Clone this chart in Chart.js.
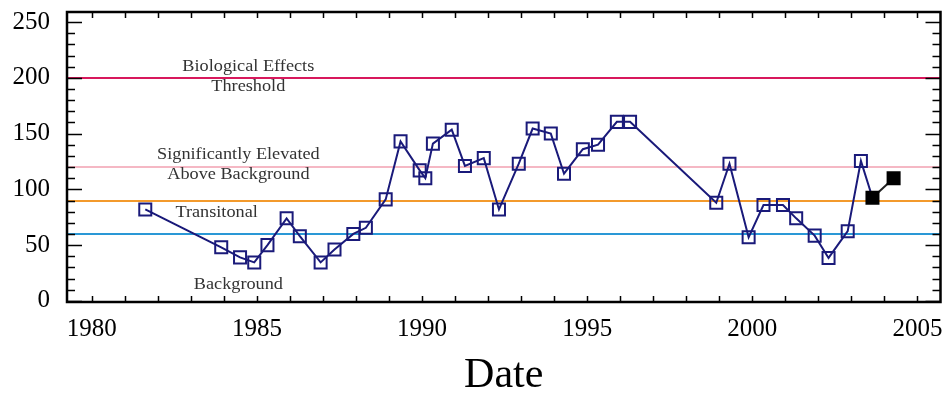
<!DOCTYPE html>
<html><head><meta charset="utf-8">
<script src="https://cdn.jsdelivr.net/npm/chart.js@4.4.1/dist/chart.umd.min.js"></script>
<style>html,body{margin:0;padding:0;background:#fff;}#wrap{width:951px;height:393px;}</style>
</head><body><div id="wrap"><canvas id="c" width="951" height="393"></canvas></div>
<script>
// ---- data ----
const dates = [1981.62,1983.92,1984.49,1984.92,1985.32,1985.90,1986.30,1986.93,1987.35,1987.92,
  1988.30,1988.90,1989.35,1989.93,1990.10,1990.33,1990.90,1991.30,1991.87,1992.33,
  1992.93,1993.35,1993.90,1994.30,1994.87,1995.33,1995.90,1996.30,1998.91,1999.31,
  1999.89,2000.34,2000.93,2001.33,2001.89,2002.31,2002.89,2003.29,2003.64,2004.28];
const values = [82,48,39,34.5,50,74,58,34.5,46,60,
  65.5,91,143,117,110,141,153.5,121,128,82,
  123,154.5,150,114,136,140,160.5,160.5,88,123,
  57,86,86,74,58.5,38.5,62.5,125.5,92.5,110];
const filled = [false,false,false,false,false,false,false,false,false,false,
  false,false,false,false,false,false,false,false,false,false,
  false,false,false,false,false,false,false,false,false,false,
  false,false,false,false,false,false,false,false,true,true];
const xTickLabels = [1980,1985,1990,1995,2000,2005];
const yTickLabels = [0,50,100,150,200,250];
const thresholdValues = [200,120,90,60];
const zoneLabels = [["Biological Effects","Threshold"],["Significantly Elevated","Above Background"],["Transitonal"],["Background"]];
const xAxisTitle = "Date";

// ---- styles ----
const thresholdColors = ['#d8185c','#f5b8c4','#f39a2c','#2a98d6'];
const zoneLabelPos = [[1984.74,210],[1984.44,131],[1983.78,79],[1984.44,14.3]];
const NAVY = '#1a1a7a';
const SERIF = '"Liberation Serif","Times New Roman",serif';

const pts = dates.map((d,i)=>({x:d,y:values[i]}));

const bgPlugin = {
  id:'bg',
  beforeDraw(chart){const c=chart.ctx;c.save();c.fillStyle='#fff';c.fillRect(0,0,chart.width,chart.height);c.restore();}
};
const zonePlugin = {
  id:'zones',
  beforeDatasetsDraw(chart){
    const c=chart.ctx, a=chart.chartArea, xs=chart.scales.x, ys=chart.scales.y;
    c.save();
    thresholdValues.forEach((v,i)=>{
      const py=Math.round(ys.getPixelForValue(v));
      c.strokeStyle=thresholdColors[i];c.lineWidth=2.2;
      c.beginPath();c.moveTo(a.left,py);c.lineTo(a.right,py);c.stroke();
    });
    c.fillStyle='#333';c.font='16px '+SERIF;c.textAlign='center';c.textBaseline='middle';
    zoneLabels.forEach((lines,i)=>{
      const px=xs.getPixelForValue(zoneLabelPos[i][0]);
      const py=ys.getPixelForValue(zoneLabelPos[i][1]);
      lines.forEach((t,j)=>{
        c.save();c.translate(px,py+j*20);c.scale(1.14,1);c.fillText(t,0,0);c.restore();
      });
    });
    c.restore();
  }
};
const framePlugin = {
  id:'frame',
  afterDraw(chart){
    const c=chart.ctx, a=chart.chartArea, xs=chart.scales.x, ys=chart.scales.y;
    c.save();c.strokeStyle='#000';c.lineWidth=1.5;
    c.beginPath();
    for(let v=0;v<=250;v+=10){
      const py=Math.round(ys.getPixelForValue(v))+0.5;const len=(v%50===0)?15:8;
      c.moveTo(a.left,py);c.lineTo(a.left+len,py);
      c.moveTo(a.right,py);c.lineTo(a.right-len,py);
    }
    for(let yr=1980;yr<=2005;yr++){
      const px=Math.round(xs.getPixelForValue(yr))+0.5;
      c.moveTo(px,a.top);c.lineTo(px,a.top+6);
      c.moveTo(px,a.bottom);c.lineTo(px,a.bottom-6);
    }
    c.stroke();
    c.lineWidth=2.5;c.strokeRect(a.left,a.top,a.right-a.left,a.bottom-a.top);
    c.restore();
  }
};

new Chart(document.getElementById('c'),{
  type:'line',
  data:{datasets:[{
    data:pts,
    borderColor:NAVY,borderWidth:2,
    pointStyle:'rect',pointRadius:8.5,pointBorderWidth:2,
    pointBorderColor:filled.map(f=>f?'#000':NAVY),
    pointBackgroundColor:filled.map(f=>f?'#000':'rgba(0,0,0,0)'),
    segment:{borderColor:ctx=>filled[ctx.p0DataIndex]?'#222':NAVY},
    tension:0,fill:false
  }]},
  options:{
    responsive:false,animation:false,devicePixelRatio:1,
    layout:{padding:{top:12,right:4,left:0,bottom:0}},
    plugins:{legend:{display:false},tooltip:{enabled:false}},
    scales:{
      x:{type:'linear',min:1979.25,max:2005.7,
        grid:{display:false,drawTicks:false},border:{display:false},
        afterBuildTicks(s){s.ticks=xTickLabels.map(v=>({value:v}));},
        afterFit(s){s.height=91;s.paddingLeft=0;s.paddingRight=0;s.paddingTop=0;s.paddingBottom=0;},
        ticks:{padding:12,color:'#000',font:{family:SERIF,size:25},maxRotation:0,autoSkip:false,callback:v=>String(v)},
        title:{display:true,text:xAxisTitle,color:'#000',font:{family:SERIF,size:42,lineHeight:0.8},padding:{top:0,bottom:0}}
      },
      y:{type:'linear',min:-1,max:259,
        grid:{display:false,drawTicks:false},border:{display:false},
        afterBuildTicks(s){s.ticks=yTickLabels.map(v=>({value:v}));},
        afterFit(s){s.width=67;s.paddingTop=0;s.paddingBottom=0;s.paddingLeft=0;s.paddingRight=0;},
        ticks:{padding:17,color:'#000',font:{family:SERIF,size:25},callback:v=>String(v)}
      }
    }
  },
  plugins:[bgPlugin,zonePlugin,framePlugin]
});
</script></body></html>
